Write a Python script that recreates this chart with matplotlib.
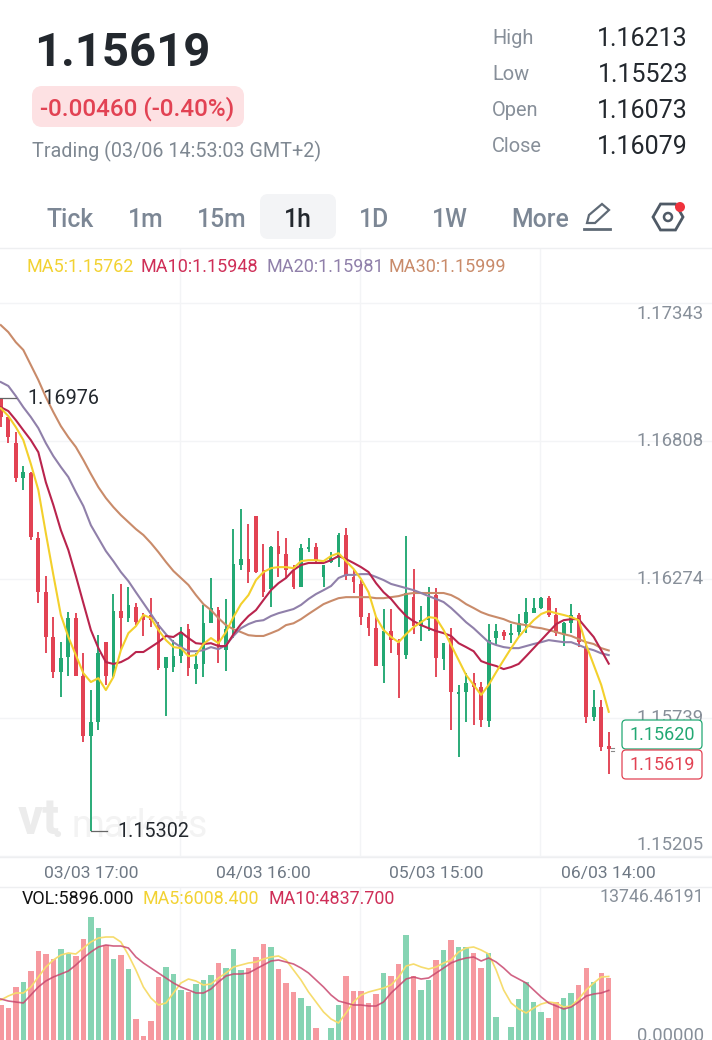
import matplotlib
matplotlib.use("Agg")
from matplotlib import pyplot as plt
from matplotlib.patches import FancyBboxPatch, Polygon, RegularPolygon, Circle
import numpy as np

plt.rcParams['font.family'] = ['Roboto', 'DejaVu Sans']

opens = [1.16976, 1.16901, 1.16800, 1.16665, 1.16684, 1.16433, 1.16224, 1.16051, 1.15915, 1.15973,
         1.16124, 1.15900, 1.15668, 1.15722, 1.16031, 1.15900, 1.16151, 1.16124, 1.16167, 1.16136,
         1.16136, 1.16097, 1.15931, 1.15935, 1.15977, 1.16081, 1.15927, 1.15947, 1.16104, 1.16155,
         1.16000, 1.16085, 1.16329, 1.16352, 1.16518, 1.16310, 1.16236, 1.16402, 1.16372, 1.16310,
         1.16244, 1.16391, 1.16398, 1.16283, 1.16341, 1.16356, 1.16445, 1.16283, 1.16256, 1.16128,
         1.16085, 1.15939, 1.16074, 1.16027, 1.15981, 1.16205, 1.16093, 1.16116, 1.16213, 1.15966,
         1.16047, 1.15831, 1.15838, 1.15873, 1.15858, 1.15726, 1.16047, 1.16070, 1.16058, 1.16070,
         1.16104, 1.16143, 1.16163, 1.16201, 1.16136, 1.16058, 1.16104, 1.16136, 1.16012, 1.15742,
         1.15780, 1.15630]
closes = [1.16901, 1.16823, 1.16665, 1.16688, 1.16437, 1.16224, 1.16051, 1.15915, 1.15969, 1.16124,
          1.15900, 1.15668, 1.15722, 1.15988, 1.15900, 1.16151, 1.16124, 1.16175, 1.16108, 1.16116,
          1.16116, 1.15931, 1.15973, 1.15977, 1.16070, 1.15931, 1.15947, 1.16104, 1.16163, 1.16012,
          1.16081, 1.16333, 1.16352, 1.16302, 1.16302, 1.16224, 1.16398, 1.16372, 1.16310, 1.16244,
          1.16394, 1.16398, 1.16344, 1.16329, 1.16356, 1.16445, 1.16287, 1.16263, 1.16128, 1.16085,
          1.15939, 1.16074, 1.16039, 1.15981, 1.16221, 1.16093, 1.16116, 1.16205, 1.15969, 1.16027,
          1.15838, 1.15838, 1.15873, 1.15858, 1.15730, 1.16039, 1.16074, 1.16055, 1.16066, 1.16104,
          1.16147, 1.16163, 1.16201, 1.16136, 1.16066, 1.16104, 1.16136, 1.16031, 1.15742, 1.15780,
          1.15626, 1.15619]
highs = [1.16976, 1.16901, 1.16842, 1.16712, 1.16688, 1.16456, 1.16287, 1.16128, 1.16031, 1.16147,
         1.16143, 1.15988, 1.15846, 1.16059, 1.16031, 1.16217, 1.16256, 1.16244, 1.16182, 1.16143,
         1.16201, 1.16108, 1.15973, 1.16039, 1.16089, 1.16101, 1.15988, 1.16175, 1.16279, 1.16167,
         1.16198, 1.16468, 1.16545, 1.16488, 1.16518, 1.16410, 1.16402, 1.16460, 1.16433, 1.16329,
         1.16410, 1.16433, 1.16414, 1.16329, 1.16379, 1.16452, 1.16472, 1.16310, 1.16271, 1.16143,
         1.16128, 1.16159, 1.16159, 1.16043, 1.16441, 1.16314, 1.16171, 1.16244, 1.16240, 1.16027,
         1.16085, 1.15866, 1.15911, 1.15911, 1.15877, 1.16101, 1.16101, 1.16078, 1.16101, 1.16140,
         1.16201, 1.16201, 1.16205, 1.16209, 1.16163, 1.16108, 1.16178, 1.16143, 1.16031, 1.15846,
         1.15807, 1.15683]
lows = [1.16862, 1.16800, 1.16649, 1.16619, 1.16425, 1.16182, 1.15988, 1.15892, 1.15819, 1.15900,
        1.15900, 1.15645, 1.15302, 1.15691, 1.15866, 1.15896, 1.16000, 1.16108, 1.16097, 1.16055,
        1.16089, 1.15923, 1.15746, 1.15915, 1.15950, 1.15900, 1.15870, 1.15896, 1.16104, 1.15950,
        1.15919, 1.16047, 1.16310, 1.16259, 1.16298, 1.16205, 1.16167, 1.16283, 1.16279, 1.16236,
        1.16244, 1.16379, 1.16337, 1.16244, 1.16337, 1.16321, 1.16271, 1.16221, 1.16097, 1.16055,
        1.15939, 1.15873, 1.15988, 1.15815, 1.15966, 1.16062, 1.16035, 1.16074, 1.15896, 1.15923,
        1.15691, 1.15587, 1.15722, 1.15711, 1.15703, 1.15703, 1.16020, 1.16039, 1.16027, 1.16055,
        1.16066, 1.16143, 1.16159, 1.16128, 1.16055, 1.16016, 1.16066, 1.16012, 1.15718, 1.15726,
        1.15610, 1.15522]

ma5 = [1.16935, 1.16905, 1.16862, 1.16812, 1.16720, 1.16619, 1.16452, 1.16291, 1.16136, 1.16051,
       1.15981, 1.15911, 1.15877, 1.15892, 1.15846, 1.15896, 1.16000, 1.16066, 1.16093, 1.16136,
       1.16124, 1.16078, 1.16039, 1.16012, 1.16008, 1.15977, 1.15981, 1.16024, 1.16047, 1.16027,
       1.16070, 1.16128, 1.16178, 1.16213, 1.16271, 1.16302, 1.16317, 1.16321, 1.16321, 1.16317,
       1.16344, 1.16348, 1.16348, 1.16344, 1.16364, 1.16375, 1.16344, 1.16314, 1.16275, 1.16224,
       1.16128, 1.16078, 1.16051, 1.16031, 1.16062, 1.16089, 1.16108, 1.16128, 1.16124, 1.16078,
       1.16020, 1.15962, 1.15904, 1.15866, 1.15827, 1.15866, 1.15915, 1.15962, 1.16008, 1.16051,
       1.16085, 1.16116, 1.16140, 1.16151, 1.16143, 1.16136, 1.16128, 1.16116, 1.16020, 1.15943,
       1.15866, 1.15762]
ma10 = [1.16939, 1.16924, 1.16889, 1.16850, 1.16812, 1.16765, 1.16649, 1.16561, 1.16464, 1.16387,
        1.16287, 1.16182, 1.16078, 1.16008, 1.15954, 1.15947, 1.15954, 1.15969, 1.15993, 1.15993,
        1.16012, 1.16031, 1.16055, 1.16051, 1.16070, 1.16047, 1.16027, 1.16024, 1.16027, 1.16016,
        1.16016, 1.16062, 1.16101, 1.16132, 1.16155, 1.16194, 1.16232, 1.16259, 1.16279, 1.16310,
        1.16329, 1.16337, 1.16337, 1.16337, 1.16348, 1.16364, 1.16352, 1.16337, 1.16321, 1.16302,
        1.16259, 1.16224, 1.16198, 1.16163, 1.16132, 1.16112, 1.16097, 1.16085, 1.16074, 1.16066,
        1.16055, 1.16027, 1.16012, 1.15996, 1.15958, 1.15947, 1.15939, 1.15927, 1.15935, 1.15947,
        1.15977, 1.16008, 1.16039, 1.16070, 1.16101, 1.16116, 1.16120, 1.16120, 1.16085, 1.16051,
        1.16000, 1.15948]
ma20 = [1.17036, 1.17021, 1.16982, 1.16939, 1.16901, 1.16858, 1.16800, 1.16750, 1.16708, 1.16669,
        1.16611, 1.16557, 1.16483, 1.16433, 1.16383, 1.16344, 1.16302, 1.16267, 1.16224, 1.16182,
        1.16140, 1.16097, 1.16062, 1.16031, 1.16012, 1.15996, 1.15996, 1.16000, 1.16012, 1.16004,
        1.16020, 1.16055, 1.16085, 1.16101, 1.16112, 1.16116, 1.16132, 1.16143, 1.16151, 1.16159,
        1.16175, 1.16198, 1.16217, 1.16232, 1.16248, 1.16279, 1.16291, 1.16291, 1.16294, 1.16294,
        1.16283, 1.16271, 1.16256, 1.16248, 1.16240, 1.16232, 1.16221, 1.16209, 1.16198, 1.16186,
        1.16163, 1.16136, 1.16108, 1.16085, 1.16058, 1.16031, 1.16020, 1.16012, 1.16008, 1.16008,
        1.16016, 1.16024, 1.16031, 1.16039, 1.16035, 1.16031, 1.16031, 1.16020, 1.16008, 1.16000,
        1.15988, 1.15981]
ma30 = [1.17256, 1.17229, 1.17190, 1.17160, 1.17102, 1.17044, 1.16978, 1.16920, 1.16866, 1.16823,
        1.16785, 1.16735, 1.16681, 1.16630, 1.16588, 1.16553, 1.16522, 1.16495, 1.16468, 1.16445,
        1.16414, 1.16379, 1.16341, 1.16306, 1.16279, 1.16252, 1.16213, 1.16178, 1.16155, 1.16124,
        1.16097, 1.16081, 1.16070, 1.16058, 1.16055, 1.16055, 1.16066, 1.16078, 1.16097, 1.16104,
        1.16120, 1.16140, 1.16159, 1.16178, 1.16190, 1.16201, 1.16205, 1.16205, 1.16205, 1.16205,
        1.16201, 1.16201, 1.16205, 1.16209, 1.16217, 1.16221, 1.16221, 1.16221, 1.16221, 1.16221,
        1.16213, 1.16198, 1.16178, 1.16163, 1.16147, 1.16136, 1.16128, 1.16120, 1.16108, 1.16101,
        1.16097, 1.16089, 1.16085, 1.16078, 1.16070, 1.16062, 1.16055, 1.16043, 1.16031, 1.16024,
        1.16008, 1.15999]

volume = [3612, 3360, 5124, 5544, 6468, 8148, 7896, 7476, 8316, 7896,
          7728, 9156, 11004, 10080, 8652, 7476, 7812, 6636, 2436, 1008,
          2268, 5964, 6804, 6216, 4872, 4704, 5376, 5712, 6132, 7140,
          6720, 8316, 6552, 6720, 7644, 8736, 8484, 6636, 5460, 4704,
          4200, 3528, 1680, 420, 1680, 3612, 6048, 4788, 4788, 3780,
          4536, 6300, 6048, 7056, 9492, 6048, 4872, 5712, 7392, 8232,
          9072, 8484, 8484, 7980, 6720, 7980, 2604, 252, 1764, 4116,
          5544, 3864, 3024, 2520, 3864, 4200, 4620, 5292, 6720, 5544,
          6300, 5896]
vol_ma5 = [4032, 4368, 4620, 4620, 5124, 5964, 6804, 7392, 7812, 7980,
           7896, 8400, 8904, 9240, 9324, 9324, 8904, 7812, 6552, 5124,
           4200, 3612, 3780, 4620, 5460, 5796, 5628, 5292, 5376, 5880,
           6300, 6804, 6972, 7140, 7224, 7476, 7644, 7728, 7392, 6552,
           5712, 4704, 3864, 3024, 2436, 2100, 2940, 3864, 4452, 4704,
           4872, 5040, 5292, 5964, 6888, 7056, 6804, 6636, 6804, 7140,
           7392, 8064, 8400, 8484, 8232, 7896, 6552, 4872, 3780, 3276,
           2940, 3360, 3696, 3864, 3780, 3444, 3528, 4116, 4872, 5460,
           5964, 6008.4]
vol_ma10 = [4116, 3948, 3864, 3780, 4452, 5124, 5628, 5964, 6216, 6468,
            6972, 7560, 8064, 8484, 8652, 8568, 8568, 8400, 7644, 7140,
            6720, 6300, 5880, 5460, 5124, 4872, 4620, 4620, 4956, 5544,
            6048, 6216, 6216, 6300, 6636, 6972, 7308, 7392, 7224, 7056,
            6720, 6300, 5712, 5124, 4452, 3948, 3780, 3612, 3612, 3528,
            3528, 3864, 4620, 5208, 5796, 5964, 5796, 5880, 6300, 6720,
            7140, 7392, 7560, 7644, 7308, 7560, 7224, 6720, 6132, 5796,
            5460, 4872, 4284, 3780, 3528, 3276, 3444, 3864, 4368, 4536,
            4620, 4837.7]

price_ticks = [1.17343, 1.16808, 1.16274, 1.15739, 1.15205]
time_ticks = [12, 35, 58, 81]
time_labels = ["03/03 17:00", "04/03 16:00", "05/03 15:00", "06/03 14:00"]
ma_legend = ["MA5:1.15762", "MA10:1.15948", "MA20:1.15981", "MA30:1.15999"]
stat_names = ["High", "Low", "Open", "Close"]
stat_values = ["1.16213", "1.15523", "1.16073", "1.16079"]
tabs = ["Tick", "1m", "15m", "1h", "1D", "1W", "More"]

GREEN = "#22a873"
RED = "#e24253"
GREEN_SOFT = "#86d4b3"
RED_SOFT = "#f6999f"
GRID = "#f3f4f6"
YELLOW = "#f3d02c"
CRIMSON = "#b9244d"
PURPLE = "#9080aa"
BROWN = "#c98b6a"
GREY = "#878f99"
TAB_GREY = "#7c8795"
DARK = "#23282e"

W, H = 712, 1040
fig = plt.figure(figsize=(W / 100, H / 100), dpi=100, facecolor="white")


def panel(top, bottom):
    return fig.add_axes([0, (H - bottom) / H, 1, (bottom - top) / H], facecolor="none")


ax = panel(248, 857)
vax = panel(887, 1040)
ui = fig.add_axes([0, 0, 1, 1], facecolor="none", zorder=5)
ui.set_xlim(0, W)
ui.set_ylim(H, 0)
ui.axis("off")

x = np.arange(len(opens))
up = np.array(closes) >= np.array(opens)
candle_colors = [GREEN if u else RED for u in up]
soft_colors = [GREEN_SOFT if u else RED_SOFT for u in up]

xlim = (-0.107, 94.76)
for a in (ax, vax):
    a.set_xlim(*xlim)
    a.tick_params(length=0)
    for s in a.spines.values():
        s.set_visible(False)
    # vertical grid stays put on screen, it does not follow the candles
    for gx in [180, 360, 540]:
        a.plot([gx / W, gx / W], [0, 1], transform=a.transAxes, color=GRID, lw=1, zorder=0)

# price panel
ax.set_ylim(1.15201, 1.17554)
for p in price_ticks:
    ax.axhline(p, color=GRID, lw=1, zorder=0)
ax.vlines(x, lows, highs, colors=candle_colors, lw=1.35, zorder=2)
body_low = np.minimum(opens, closes)
body_h = np.abs(np.array(closes) - np.array(opens))
ax.bar(x, body_h, bottom=body_low, width=0.5, color=candle_colors, zorder=2)
ax.plot(x, ma30, color=BROWN, lw=1.5, zorder=3)
ax.plot(x, ma20, color=PURPLE, lw=1.5, zorder=3)
ax.plot(x, ma10, color=CRIMSON, lw=1.5, zorder=3)
ax.plot(x, ma5, color=YELLOW, lw=1.5, zorder=3)

ax.set_yticks([])
ax.set_xticks(time_ticks)
ax.set_xticklabels(time_labels, fontsize=12.6, color="#6e7884")
ax.tick_params(axis="x", pad=6.5)

offsets = {0: -11, 4: 11}
for i, p in enumerate(price_ticks):
    ax.annotate(f"{p:.5f}", xy=(1, p), xycoords=("axes fraction", "data"),
                xytext=(-8, offsets.get(i, 0)), textcoords="offset pixels",
                ha="right", va="center", fontsize=13.3, color=GREY)

# high and low markers
hi = int(np.argmax(highs))
lo = int(np.argmin(lows))
ax.plot([hi - 0.1, hi + 2.0], [highs[hi], highs[hi]], color="#666666", lw=0.9, zorder=4)
ax.plot([lo, lo + 2.1], [lows[lo], lows[lo]], color="#666666", lw=0.9, zorder=4)
ax.annotate(f"{highs[hi]:.5f}", xy=(hi, highs[hi]), xytext=(27, -1), textcoords="offset pixels",
            ha="left", va="center", fontsize=14.2, color=DARK)
ax.annotate(f"{lows[lo]:.5f}", xy=(lo, lows[lo]), xytext=(27, -1), textcoords="offset pixels",
            ha="left", va="center", fontsize=14.2, color=DARK)

# watermark sits under the candles
ax.text(18, 834, "vt", transform=ui.transData, fontsize=36, fontweight="bold",
        color="#ececec", ha="left", va="baseline", zorder=1, clip_on=False)
ax.text(52, 837, ".", transform=ui.transData, fontsize=30, fontweight="bold",
        color="#ececec", ha="left", va="baseline", zorder=1, clip_on=False)
ax.text(72, 837, "markets", transform=ui.transData, fontsize=27,
        color="#f3f3f3", ha="left", va="baseline", zorder=1, clip_on=False)

# volume panel
vax.set_ylim(672, 13524)
vax.bar(x, volume, width=0.72, color=soft_colors, zorder=2)
vax.plot(x, vol_ma5, color="#f6dc6e", lw=1.2, zorder=3)
vax.plot(x, vol_ma10, color="#c9486f", lw=1.2, alpha=0.85, zorder=3)
vax.set_xticks([])
vax.set_yticks([])
for val, off, fs in [(13746.46191, -13, 12.8), (0.0, 12, 13.3)]:
    vax.annotate(f"{val:.5f}", xy=(1, val), xycoords=("axes fraction", "data"),
                 xytext=(-8, off), textcoords="offset pixels", ha="right", va="center",
                 fontsize=fs, color=GREY, annotation_clip=False)

# separators
for sy in [248, 857, 887]:
    ui.plot([0, W], [sy, sy], color="#eeeff1", lw=1)

# header
ui.text(34, 53, "1.15619", fontsize=34, fontweight="bold", color=DARK, va="center", ha="left")
ui.add_patch(FancyBboxPatch((37, 91), 202, 31, boxstyle="round,pad=0,rounding_size=5",
                            fc="#fde1e3", ec="#fde1e3", lw=10 / 1.389))
ui.text(40, 109, "-0.00460 (-0.40%)", fontsize=17.5, fontweight="medium", color=RED, va="center", ha="left")
ui.text(32, 151, "Trading (03/06 14:53:03 GMT+2)", fontsize=14.2, color="#7f8892", va="center", ha="left")
for name, val, sy in zip(stat_names, stat_values, [39, 75, 111, 147]):
    ui.text(492, sy, name, fontsize=14.4, color=GREY, va="center", ha="left")
    ui.text(688, sy, val, fontsize=18, color=DARK, va="center", ha="right")

# tabs
ui.add_patch(FancyBboxPatch((264, 198), 68, 37, boxstyle="round,pad=0,rounding_size=4",
                            fc="#f3f4f6", ec="#f3f4f6", lw=8 / 1.389))
for name, tx in zip(tabs, [70, 146, 222, 298, 374, 450, 540]):
    active = name == "1h"
    ui.text(tx, 220, name, fontsize=17.8, color=DARK if active else TAB_GREY,
            fontweight="medium", ha="center", va="center")

# pencil and settings icons
ui.add_patch(Polygon([(587, 223), (589, 215), (602, 204), (609, 210), (595, 223)],
                     closed=True, fc="none", ec="#5f6a76", lw=1.6))
ui.plot([584, 610], [229, 229], color="#5f6a76", lw=2)
ui.add_patch(RegularPolygon((668, 217), 6, radius=15, orientation=np.pi / 6, fc="none", ec="#4f5a66", lw=2))
ui.add_patch(Circle((668, 217), 4, fc="none", ec="#4f5a66", lw=1.8))
ui.add_patch(Circle((680, 207), 5, fc="#f0323c", ec="none"))

# moving average legends
for label, lx, col in zip(ma_legend, [26, 141, 266, 388], ["#f2d233", "#cf2f58", PURPLE, BROWN]):
    ui.text(lx, 267, label, fontsize=13, color=col, va="center", ha="left")
for label, lx, col in zip(["VOL:5896.000", "MA5:6008.400", "MA10:4837.700"], [22, 143, 268],
                          ["#111111", "#f2d233", "#cf2f58"]):
    ui.text(lx, 899, label, fontsize=12.9, color=col, va="center", ha="left")

# last price tags
for label, ty, col in [("1.15620", 720, GREEN), ("1.15619", 750, RED)]:
    ui.add_patch(FancyBboxPatch((622, ty), 80, 29, boxstyle="round,pad=0,rounding_size=4",
                                fc="white", ec=col, lw=0.9, zorder=6))
    ui.text(662, ty + 15, label, fontsize=13, color=col, ha="center", va="center", zorder=7)
ui.plot([611, 614], [748, 748], color="#888888", lw=0.8)
ui.plot([611, 614], [750.5, 750.5], color="#888888", lw=0.8)

fig.savefig("out.png", dpi=100, facecolor="white")
